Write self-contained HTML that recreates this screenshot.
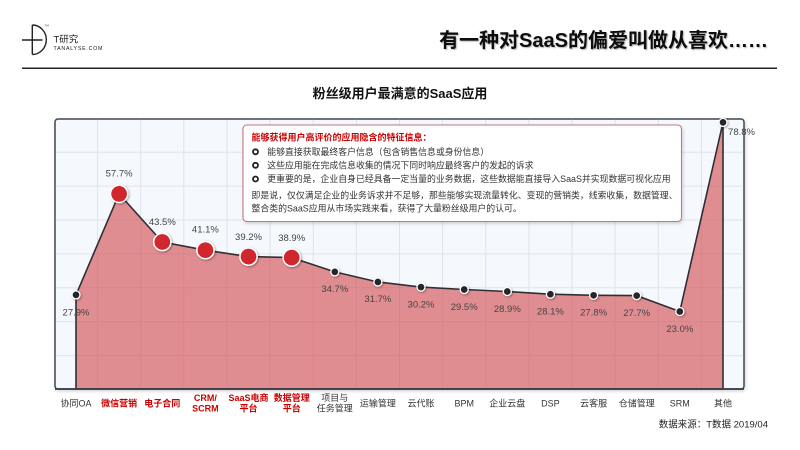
<!DOCTYPE html>
<html>
<head>
<meta charset="utf-8">
<style>
  html,body{margin:0;padding:0;background:#fff;}
  body{width:800px;height:450px;overflow:hidden;}
  svg{display:block;}
  text{font-family:"Liberation Sans","Noto Sans CJK SC",sans-serif;}
</style>
</head>
<body>
<svg width="800" height="450" viewBox="0 0 800 450" xmlns="http://www.w3.org/2000/svg">
  <defs>
    <filter id="sh" x="-20%" y="-20%" width="140%" height="140%">
      <feDropShadow dx="1" dy="1" stdDeviation="1" flood-color="#000" flood-opacity="0.35"/>
    </filter>
    <filter id="bsh" x="-5%" y="-10%" width="110%" height="120%">
      <feDropShadow dx="1" dy="1.5" stdDeviation="1.5" flood-color="#000" flood-opacity="0.18"/>
    </filter>
    <filter id="tsh" x="-5%" y="-20%" width="110%" height="140%">
      <feDropShadow dx="1" dy="1" stdDeviation="0.6" flood-color="#000" flood-opacity="0.3"/>
    </filter>
  </defs>

  <!-- Logo -->
  <g stroke="#222" stroke-width="1.4" fill="none">
    <line x1="32.3" y1="25" x2="32.3" y2="54.5"/>
    <path d="M32.3 25 A 14 14.75 0 0 1 32.3 54.5"/>
    <line x1="22" y1="40" x2="42.5" y2="40"/>
  </g>
  <text x="44.5" y="26.5" font-size="3" fill="#444">TM</text>
  <text x="53.5" y="42.5" font-size="9.5" fill="#222">T研究</text>
  <text x="53.5" y="50" font-size="5.3" fill="#222" letter-spacing="0.75">TANALYSE.COM</text>

  <!-- Title -->
  <text x="768" y="47" font-size="20" font-weight="bold" fill="#111" text-anchor="end" filter="url(#tsh)">有一种对SaaS的偏爱叫做从喜欢……</text>
  <line x1="22" y1="68.3" x2="777" y2="68.3" stroke="#222" stroke-width="1.5"/>

  <!-- Subtitle -->
  <text x="400" y="98" font-size="13" font-weight="bold" fill="#111" text-anchor="middle">粉丝级用户最满意的SaaS应用</text>

  <!-- Plot frame -->
  <rect x="55" y="119" width="689" height="270" rx="3" fill="#f5f9fd" stroke="#3f4850" stroke-width="1.5" filter="url(#bsh)"/>

  <!-- grid -->
  <g stroke="#dde4ec" stroke-width="1">
    <line x1="97.6" y1="119.8" x2="97.6" y2="388.5"/>
    <line x1="140.7" y1="119.8" x2="140.7" y2="388.5"/>
    <line x1="183.8" y1="119.8" x2="183.8" y2="388.5"/>
    <line x1="227" y1="119.8" x2="227" y2="388.5"/>
    <line x1="270.1" y1="119.8" x2="270.1" y2="388.5"/>
    <line x1="313.2" y1="119.8" x2="313.2" y2="388.5"/>
    <line x1="356.4" y1="119.8" x2="356.4" y2="388.5"/>
    <line x1="399.5" y1="119.8" x2="399.5" y2="388.5"/>
    <line x1="442.6" y1="119.8" x2="442.6" y2="388.5"/>
    <line x1="485.7" y1="119.8" x2="485.7" y2="388.5"/>
    <line x1="528.9" y1="119.8" x2="528.9" y2="388.5"/>
    <line x1="572" y1="119.8" x2="572" y2="388.5"/>
    <line x1="615.1" y1="119.8" x2="615.1" y2="388.5"/>
    <line x1="658.3" y1="119.8" x2="658.3" y2="388.5"/>
    <line x1="701.4" y1="119.8" x2="701.4" y2="388.5"/>
    <line x1="55.8" y1="355.6" x2="743.2" y2="355.6"/>
    <line x1="55.8" y1="321.7" x2="743.2" y2="321.7"/>
    <line x1="55.8" y1="287.8" x2="743.2" y2="287.8"/>
    <line x1="55.8" y1="253.9" x2="743.2" y2="253.9"/>
    <line x1="55.8" y1="220" x2="743.2" y2="220"/>
    <line x1="55.8" y1="186.1" x2="743.2" y2="186.1"/>
    <line x1="55.8" y1="152.2" x2="743.2" y2="152.2"/>
  </g>

  <!-- area -->
  <polygon points="76,389 76,294.9 119.1,193.9 162.3,242 205.4,250.2 248.5,256.6 291.7,257.6 334.8,271.9 377.9,282 421,287.1 464.2,289.5 507.3,291.5 550.4,294.2 593.6,295.3 636.7,295.6 679.8,311.5 723,122.4 723,389"
    fill="rgba(211,75,79,0.62)" stroke="#2f2f33" stroke-width="1.6" stroke-linejoin="round"/>
  <line x1="55" y1="389" x2="744" y2="389" stroke="#3a4048" stroke-width="1.8"/>

  <!-- markers -->
  <g fill="#26282c" stroke="#fff" stroke-width="1.3" filter="url(#sh)">
    <circle cx="76" cy="294.9" r="4"/>
    <circle cx="334.8" cy="271.9" r="4"/>
    <circle cx="377.9" cy="282" r="4"/>
    <circle cx="421" cy="287.1" r="4"/>
    <circle cx="464.2" cy="289.5" r="4"/>
    <circle cx="507.3" cy="291.5" r="4"/>
    <circle cx="550.4" cy="294.2" r="4"/>
    <circle cx="593.6" cy="295.3" r="4"/>
    <circle cx="636.7" cy="295.6" r="4"/>
    <circle cx="679.8" cy="311.5" r="4"/>
    <circle cx="723" cy="122.4" r="4"/>
  </g>
  <g fill="#d0262d" stroke="#fff" stroke-width="1.5" filter="url(#sh)">
    <circle cx="119.1" cy="193.9" r="8.6"/>
    <circle cx="162.3" cy="242" r="8.6"/>
    <circle cx="205.4" cy="250.2" r="8.6"/>
    <circle cx="248.5" cy="256.6" r="8.6"/>
    <circle cx="291.7" cy="257.6" r="8.6"/>
  </g>

  <!-- value labels -->
  <g font-size="9.5" fill="#444" text-anchor="middle">
    <text x="76" y="315.5">27.9%</text>
    <text x="119.1" y="176.5">57.7%</text>
    <text x="162.3" y="225">43.5%</text>
    <text x="205.4" y="232.5">41.1%</text>
    <text x="248.5" y="240">39.2%</text>
    <text x="291.7" y="241">38.9%</text>
    <text x="334.8" y="292">34.7%</text>
    <text x="377.9" y="302">31.7%</text>
    <text x="421" y="307.5">30.2%</text>
    <text x="464.2" y="310">29.5%</text>
    <text x="507.3" y="312">28.9%</text>
    <text x="550.4" y="314.5">28.1%</text>
    <text x="593.6" y="315.5">27.8%</text>
    <text x="636.7" y="316">27.7%</text>
    <text x="679.8" y="332">23.0%</text>
    <text x="741.5" y="135">78.8%</text>
  </g>

  <!-- x labels -->
  <g font-size="9" text-anchor="middle" fill="#333">
    <text x="76" y="406.5">协同OA</text>
    <text x="334.8" y="401">项目与</text>
    <text x="334.8" y="411.5">任务管理</text>
    <text x="377.9" y="406.5">运输管理</text>
    <text x="421" y="406.5">云代账</text>
    <text x="464.2" y="406.5">BPM</text>
    <text x="507.3" y="406.5">企业云盘</text>
    <text x="550.4" y="406.5">DSP</text>
    <text x="593.6" y="406.5">云客服</text>
    <text x="636.7" y="406.5">仓储管理</text>
    <text x="679.8" y="406.5">SRM</text>
    <text x="723" y="406.5">其他</text>
  </g>
  <g font-size="9" text-anchor="middle" fill="#c80000" font-weight="bold">
    <text x="119.1" y="406.5">微信营销</text>
    <text x="162.3" y="406.5">电子合同</text>
    <text x="205.4" y="401">CRM/</text>
    <text x="205.4" y="411.5">SCRM</text>
    <text x="248.5" y="401">SaaS电商</text>
    <text x="248.5" y="411.5">平台</text>
    <text x="291.7" y="401">数据管理</text>
    <text x="291.7" y="411.5">平台</text>
  </g>

  <!-- text box -->
  <rect x="243" y="125" width="438.5" height="96.5" rx="4" fill="#fff" stroke="#c9777a" stroke-width="1.1" filter="url(#bsh)"/>
  <text x="251.5" y="140.5" font-size="9" font-weight="bold" fill="#cc0000">能够获得用户高评价的应用隐含的特征信息：</text>
  <g fill="#fff" stroke="#222" stroke-width="1.8">
    <circle cx="255.5" cy="151.8" r="2.5"/>
    <circle cx="255.5" cy="165.3" r="2.5"/>
    <circle cx="255.5" cy="179" r="2.5"/>
  </g>
  <g font-size="8.9" fill="#333">
    <text x="267.3" y="155">能够直接获取最终客户信息（包含销售信息或身份信息）</text>
    <text x="267.3" y="168.5">这些应用能在完成信息收集的情况下同时响应最终客户的发起的诉求</text>
    <text x="267.3" y="182.2">更重要的是，企业自身已经具备一定当量的业务数据，这些数据能直接导入SaaS并实现数据可视化应用</text>
    <text x="251.5" y="198.3">即是说，仅仅满足企业的业务诉求并不足够，那些能够实现流量转化、变现的营销类，线索收集，数据管理、</text>
    <text x="251.5" y="211.6">整合类的SaaS应用从市场实践来看，获得了大量粉丝级用户的认可。</text>
  </g>

  <!-- source -->
  <text x="768" y="427.5" font-size="9.5" fill="#222" text-anchor="end">数据来源：T数据 2019/04</text>
</svg>
</body>
</html>
